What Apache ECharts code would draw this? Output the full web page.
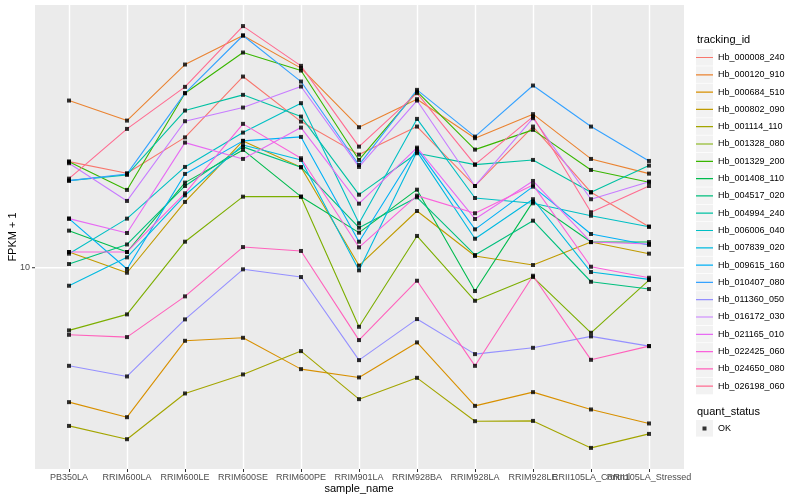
<!DOCTYPE html>
<html>
<head>
<meta charset="utf-8">
<script src="https://cdn.jsdelivr.net/npm/echarts@6/dist/echarts.min.js"></script>
<style>html,body{margin:0;padding:0;background:#fff}#c{width:800px;height:500px}</style>
</head>
<body>
<div id="c"></div>
<script>
// ---------- data ----------
const categories = ['PB350LA','RRIM600LA','RRIM600LE','RRIM600SE','RRIM600PE','RRIM901LA','RRIM928BA','RRIM928LA','RRIM928LE','RRII105LA_Control','RRII105LA_Stressed'];
const yTickValues = [10];
const yTickLabels = ['10'];

const hb_000008_240 = [20.95, 19.32, 24.81, 37.91, 27.70, 22.00, 26.75, 17.68, 26.75, 16.92, 13.31];
const hb_000120_910 = [32.07, 27.89, 41.22, 50.47, 40.20, 26.63, 32.38, 24.67, 29.17, 21.35, 19.27];
const hb_000684_510 = [3.918, 3.528, 6.009, 6.136, 4.932, 4.655, 5.942, 3.818, 4.201, 3.723, 3.377];
const hb_000802_090 = [11.16, 9.657, 15.82, 24.21, 20.15, 10.15, 14.85, 10.85, 10.19, 11.96, 11.03];
const hb_001114_110 = [3.320, 3.026, 4.163, 4.753, 5.592, 4.001, 4.642, 3.431, 3.438, 2.848, 3.140];
const hb_001328_080 = [6.461, 7.224, 11.99, 16.41, 16.41, 6.626, 12.48, 7.943, 9.372, 6.354, 9.178];
const hb_001329_200 = [20.95, 17.20, 33.76, 44.82, 39.53, 21.20, 34.15, 22.78, 26.14, 19.77, 18.15];
const hb_001408_110 = [12.95, 11.16, 18.10, 22.73, 16.41, 12.77, 17.23, 8.500, 15.85, 11.96, 11.96];
const hb_004517_020 = [10.26, 11.76, 17.68, 23.22, 20.15, 13.22, 16.34, 10.93, 13.88, 9.069, 8.619];
const hb_004994_240 = [18.35, 19.10, 29.91, 33.37, 28.68, 16.64, 22.22, 20.52, 21.20, 16.92, 20.38];
const hb_006006_040 = [11.03, 14.08, 20.19, 25.65, 31.49, 13.63, 28.22, 16.26, 15.67, 14.37, 13.31];
const hb_007839_020 = [8.820, 10.75, 16.57, 23.54, 21.20, 9.820, 22.47, 12.24, 16.12, 9.704, 9.222];
const hb_009615_160 = [14.08, 9.910, 19.23, 24.21, 24.89, 11.99, 22.89, 13.07, 17.60, 12.65, 11.72];
const hb_010407_080 = [18.35, 19.23, 33.76, 50.47, 36.61, 20.47, 34.55, 24.94, 35.61, 26.75, 21.05];
const hb_011360_050 = [5.047, 4.687, 6.976, 9.889, 9.372, 5.252, 6.991, 5.476, 5.722, 6.197, 5.791];
const hb_016172_030 = [20.72, 15.93, 27.77, 30.54, 35.36, 20.19, 32.07, 17.68, 28.36, 16.12, 18.22];
const hb_021165_010 = [14.08, 12.74, 23.92, 21.35, 26.56, 15.63, 23.10, 14.05, 18.31, 11.96, 11.80];
const hb_022425_060 = [11.16, 11.16, 16.80, 27.26, 21.45, 11.53, 16.53, 14.62, 17.81, 10.07, 9.326];
const hb_024650_080 = [6.266, 6.166, 8.191, 11.55, 11.24, 6.039, 9.133, 5.047, 9.457, 5.263, 5.791];
const hb_026198_060 = [18.61, 26.32, 35.28, 53.89, 40.85, 23.26, 33.76, 20.52, 28.68, 14.72, 17.68];

const trackingIds = ['Hb_000008_240','Hb_000120_910','Hb_000684_510','Hb_000802_090','Hb_001114_110',
  'Hb_001328_080','Hb_001329_200','Hb_001408_110','Hb_004517_020','Hb_004994_240','Hb_006006_040',
  'Hb_007839_020','Hb_009615_160','Hb_010407_080','Hb_011360_050','Hb_016172_030','Hb_021165_010',
  'Hb_022425_060','Hb_024650_080','Hb_026198_060'];
const seriesValues = [hb_000008_240, hb_000120_910, hb_000684_510, hb_000802_090, hb_001114_110,
  hb_001328_080, hb_001329_200, hb_001408_110, hb_004517_020, hb_004994_240, hb_006006_040,
  hb_007839_020, hb_009615_160, hb_010407_080, hb_011360_050, hb_016172_030, hb_021165_010,
  hb_022425_060, hb_024650_080, hb_026198_060];
const quantStatus = ['OK'];

// ---------- styling ----------
const palette = ['#F8766D','#EA8331','#D89000','#C09B00','#A3A500','#7CAE00','#39B600','#00BB4E',
  '#00BF7D','#00C1A3','#00BFC4','#00BAE0','#00B0F6','#35A2FF','#9590FF','#C77CFF','#E76BF3',
  '#FA62DB','#FF62BC','#FF6C91'];
const FONT = '"Liberation Sans", Arial, Helvetica, sans-serif';
const LINE_ICON = 'path://M0,0h0.01v0.01H0z M0,7.9h17v1.2H0z M16.99,16.99h0.01v0.01h-0.01z';
const POINT_ICON = 'path://M0,0h0.01v0.01H0z M6.5,6.5h4v4h-4z M16.99,16.99h0.01v0.01h-0.01z';

// ggplot-like 5% expansion of the log range
const allVals = seriesValues.flat();
const lo = Math.log10(Math.min(...allVals)), hi = Math.log10(Math.max(...allVals));
const span = hi - lo;
const yMin = Math.pow(10, lo - 0.05 * span);
const yMax = Math.pow(10, hi + 0.05 * span);

const lineSeries = trackingIds.map((name, k) => ({
  name, type: 'line', data: seriesValues[k], symbol: 'none', showSymbol: false,
  lineStyle: { width: 1.1, color: palette[k] }, itemStyle: { color: palette[k] },
  z: 2, silent: true, emphasis: { disabled: true }
}));
const points = [];
seriesValues.forEach(arr => arr.forEach((v, i) => points.push([i, v])));
const pointSeries = {
  name: quantStatus[0], type: 'scatter', data: points, symbol: 'rect', symbolSize: 4,
  itemStyle: { color: '#000000' }, z: 3, silent: true, emphasis: { disabled: true }
};

const chart = echarts.init(document.getElementById('c'));
chart.setOption({
  animation: false,
  backgroundColor: '#ffffff',
  color: palette,
  textStyle: { fontFamily: FONT },
  grid: { left: 69, right: 151, top: 5, bottom: 31, containLabel: false, outerBoundsMode: 'none' },
  title: [
    { text: 'tracking_id', left: 697, top: 34, padding: 0, textStyle: { fontSize: 11, fontWeight: 'normal', color: '#000', fontFamily: FONT } },
    { text: 'quant_status', left: 697, top: 406, padding: 0, textStyle: { fontSize: 11, fontWeight: 'normal', color: '#000', fontFamily: FONT } }
  ],
  legend: [
    { data: trackingIds, orient: 'vertical', left: 696, top: 49, padding: 0, itemGap: 0.3,
      itemWidth: 17, itemHeight: 17, icon: LINE_ICON, selectedMode: false,
      itemStyle: { borderWidth: 0 }, textStyle: { fontSize: 9, color: '#000', fontFamily: FONT } },
    { data: quantStatus, orient: 'vertical', left: 696, top: 420, padding: 0,
      itemWidth: 17, itemHeight: 17, icon: POINT_ICON, selectedMode: false,
      itemStyle: { borderWidth: 0 }, textStyle: { fontSize: 9, color: '#000', fontFamily: FONT } }
  ],
  xAxis: {
    type: 'category', data: categories, boundaryGap: false,
    axisLine: { show: false },
    axisTick: { show: true, length: 3, lineStyle: { color: '#333333', width: 1 } },
    axisLabel: { interval: 0, fontSize: 9, color: '#4D4D4D', margin: 4, fontFamily: FONT },
    splitLine: { show: true, lineStyle: { color: '#FFFFFF', width: 1.4 } },
    name: 'sample_name', nameLocation: 'middle', nameGap: 14, nameMoveOverlap: false,
    nameTextStyle: { fontSize: 11, color: '#000', fontFamily: FONT }
  },
  yAxis: {
    type: 'log', logBase: 10, min: yMin, max: yMax, offset: 34,
    axisLine: { show: false }, axisTick: { show: false }, splitLine: { show: false },
    axisLabel: {
      fontSize: 9, color: '#4D4D4D', margin: 5, fontFamily: FONT,
      formatter: v => { const j = yTickValues.findIndex(t => Math.abs(t - v) < 1e-6 * t); return j >= 0 ? yTickLabels[j] : ''; }
    },
    name: 'FPKM + 1', nameLocation: 'middle', nameGap: 17, nameMoveOverlap: false,
    nameTextStyle: { fontSize: 11, color: '#000', fontFamily: FONT }
  },
  series: [...lineSeries, pointSeries]
});

// panel background, y gridline at ticks, legend key backgrounds
const gfx = [];
gfx.push({ type: 'rect', z: -100, silent: true, shape: { x: 35, y: 5, width: 649, height: 464 }, style: { fill: '#EBEBEB' } });
yTickValues.forEach(t => {
  const py = chart.convertToPixel({ yAxisIndex: 0 }, t);
  gfx.push({ type: 'line', z: -50, silent: true, shape: { x1: 35, y1: py, x2: 684, y2: py }, style: { stroke: '#FFFFFF', lineWidth: 1.4 } });
  gfx.push({ type: 'line', z: -50, silent: true, shape: { x1: 32, y1: py, x2: 35, y2: py }, style: { stroke: '#333333', lineWidth: 1 } });
});
trackingIds.forEach((n, i) => {
  gfx.push({ type: 'rect', z: -100, silent: true, shape: { x: 696, y: 49 + i * 17.3, width: 17, height: 16.6 }, style: { fill: '#F2F2F2' } });
});
gfx.push({ type: 'rect', z: -100, silent: true, shape: { x: 696, y: 420, width: 17, height: 16.6 }, style: { fill: '#F2F2F2' } });
chart.setOption({ graphic: gfx });
</script>
</body>
</html>
